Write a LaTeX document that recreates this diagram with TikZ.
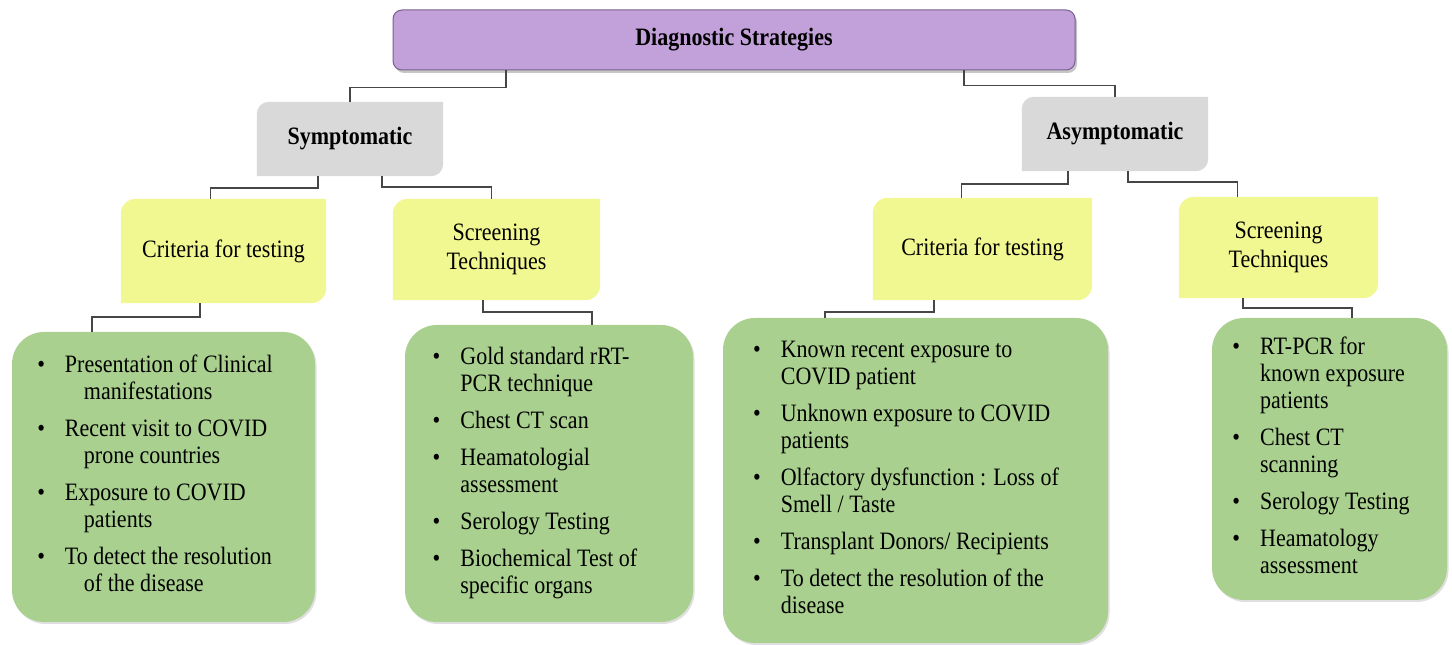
\documentclass[tikz,border=0pt]{standalone}
\usepackage{fontspec}
\setmainfont{Liberation Serif}[FakeStretch=0.88]
\usepackage{xcolor}
\usetikzlibrary{shadows}
\usetikzlibrary{backgrounds}

\definecolor{purplefill}{RGB}{194,160,218}
\definecolor{purpleline}{RGB}{120,96,140}
\definecolor{grayfill}{RGB}{217,217,217}
\definecolor{yellowfill}{RGB}{242,248,145}
\definecolor{greenfill}{RGB}{169,208,142}
\definecolor{linkgray}{RGB}{70,70,70}

% box with only the top left and bottom right corners rounded
\newcommand{\diagfill}[3]{%
  \fill[#2] (#1.north east) -- ([xshift=#3]#1.north west)
    arc[start angle=90,end angle=180,radius=#3] -- (#1.south west)
    -- ([xshift=-#3]#1.south east) arc[start angle=270,end angle=360,radius=#3] -- cycle;}

\begin{document}
\begin{tikzpicture}[x=1pt,y=1pt,
  font=\fontsize{25}{27}\selectfont,
  headbox/.style={draw=purpleline,fill=purplefill,line width=1pt,rounded corners=9pt,
    drop shadow={shadow xshift=2pt,shadow yshift=-3pt,opacity=0.45},
    font=\fontsize{25}{27}\selectfont\bfseries},
  groupbox/.style={font=\fontsize{25}{27}\selectfont\bfseries},
  sortbox/.style={align=center,font=\fontsize{25}{29}\selectfont},
  listbox/.style={fill=greenfill,rounded corners=32pt,
    drop shadow={shadow xshift=1.5pt,shadow yshift=-2pt,opacity=0.25}},
  link/.style={draw=linkgray,line width=1.5pt}]
	 \useasboundingbox (0,0) rectangle (1452,645);
	 %
	 \node (diag) at (734,605) [headbox,minimum width=682pt,minimum height=60pt] {Diagnostic Strategies};
	 %
	 \node (symp) at (350,506) [groupbox,minimum width=186pt,minimum height=74pt] {Symptomatic};
	 %
	 \node (asymp) at (1115,511) [groupbox,minimum width=186pt,minimum height=74pt] {Asymptomatic};
	 %
	 \node (sympcrit) at (223.5,394) [sortbox,minimum width=205pt,minimum height=104pt] {Criteria for testing};
	 %
	 \node (sympscreen) at (496.5,395.5) [sortbox,minimum width=207pt,minimum height=101pt] {Screening\\Techniques};
	 %
	 \node (asympcrit) at (982.5,396) [sortbox,minimum width=219pt,minimum height=102pt] {Criteria for testing};
	 %
	 \node (asympscreen) at (1278.5,397.5) [sortbox,minimum width=199pt,minimum height=101pt] {Screening\\Techniques};
	 %
	 \node (sympcritlist) at (163.5,168) [listbox,minimum width=303pt,minimum height=290pt] {%
	 \begin{tabular}{@{}l@{\hspace{20pt}}l@{\hspace{17pt}}}
	 \textbullet & Presentation of Clinical\\
	  & \hspace{19pt}manifestations\\[10pt]
	 \textbullet & Recent visit to COVID\\
	  & \hspace{19pt}prone countries\\[10pt]
	 \textbullet & Exposure to COVID\\
	  & \hspace{19pt}patients\\[10pt]
	 \textbullet & To detect the resolution\\
	  & \hspace{19pt}of the disease
	 \end{tabular}};
	 %
	 \node (sympscreenlist) at (549,171.5) [listbox,minimum width=288pt,minimum height=297pt] {%
	 \begin{tabular}{@{}l@{\hspace{20pt}}l@{\hspace{28pt}}}
	 \textbullet & Gold standard rRT-\\
	  & PCR technique\\[10pt]
	 \textbullet & Chest CT scan\\[10pt]
	 \textbullet & Heamatologial\\
	  & assessment\\[10pt]
	 \textbullet & Serology Testing\\[10pt]
	 \textbullet & Biochemical Test of\\
	  & specific organs
	 \end{tabular}};
	 %
	 \node (asympcritlist) at (915.5,164.5) [listbox,minimum width=385pt,minimum height=325pt] {%
	 \begin{tabular}{@{}l@{\hspace{20pt}}l@{\hspace{19pt}}}
	 \textbullet & Known recent exposure to\\
	  & COVID patient\\[10pt]
	 \textbullet & Unknown exposure to COVID\\
	  & patients\\[10pt]
	 \textbullet & Olfactory dysfunction : Loss of\\
	  & Smell / Taste\\[10pt]
	 \textbullet & Transplant Donors/ Recipients\\[10pt]
	 \textbullet & To detect the resolution of the\\
	  & disease
	 \end{tabular}};
	 %
	 \node (asympscreenlist) at (1329.5,186) [listbox,minimum width=235pt,minimum height=282pt] {%
	 \begin{tabular}{@{}l@{\hspace{20pt}}l@{\hspace{17pt}}}
	 \textbullet & RT-PCR for\\
	  & known exposure\\
	  & patients\\[10pt]
	 \textbullet & Chest CT\\
	  & scanning\\[10pt]
	 \textbullet & Serology Testing\\[10pt]
	 \textbullet & Heamatology\\
	  & assessment
	 \end{tabular}};
	 %
	 \begin{pgfonlayer}{background}
	 \diagfill{symp}{grayfill}{12pt}
	 \diagfill{asymp}{grayfill}{12pt}
	 \diagfill{sympcrit}{yellowfill}{15pt}
	 \diagfill{sympscreen}{yellowfill}{15pt}
	 \diagfill{asympcrit}{yellowfill}{15pt}
	 \diagfill{asympscreen}{yellowfill}{15pt}
	 \end{pgfonlayer}
	 %
	 %Strategies-Symptomatic
	 \draw[link] ([xshift=-228pt]diag.south) -- ++(0,-17) -| (symp.north);
	 %
	 %Strategies-Asymptomatic
	 \draw[link] ([xshift=230pt]diag.south) -- ++(0,-15) -| (asymp.north);
	 %
	 %Symptomatic-Criteria
	 \draw[link] ([xshift=-32pt]symp.south) -- ++(0,-12) -| ([xshift=-13pt]sympcrit.north);
	 %
	 %Symptomatic-Screening
	 \draw[link] ([xshift=32pt]symp.south) -- ++(0,-11) -| ([xshift=-5pt]sympscreen.north);
	 %
	 %Asymptomatic-Criteria
	 \draw[link] ([xshift=-47pt]asymp.south) -- ++(0,-13) -| ([xshift=-21pt]asympcrit.north);
	 %
	 %Asymptomatic-Screening
	 \draw[link] ([xshift=13pt]asymp.south) -- ++(0,-11) -| ([xshift=-41pt]asympscreen.north);
	 %
	 %Criteria-List (symptomatic)
	 \draw[link] ([xshift=-23.5pt]sympcrit.south) -- ++(0,-14) -| ([xshift=-71.5pt]sympcritlist.north);
	 %
	 %Screening-List (symptomatic)
	 \draw[link] ([xshift=-13.5pt]sympscreen.south) -- ++(0,-12) -| ([xshift=43pt]sympscreenlist.north);
	 %
	 %Criteria-List (asymptomatic)
	 \draw[link] ([xshift=-48.5pt]asympcrit.south) -- ++(0,-12) -| ([xshift=-90.5pt]asympcritlist.north);
	 %
	 %Screening-List (asymptomatic)
	 \draw[link] ([xshift=-35.5pt]asympscreen.south) -- ++(0,-10) -| ([xshift=22.5pt]asympscreenlist.north);
\end{tikzpicture}
\end{document}
